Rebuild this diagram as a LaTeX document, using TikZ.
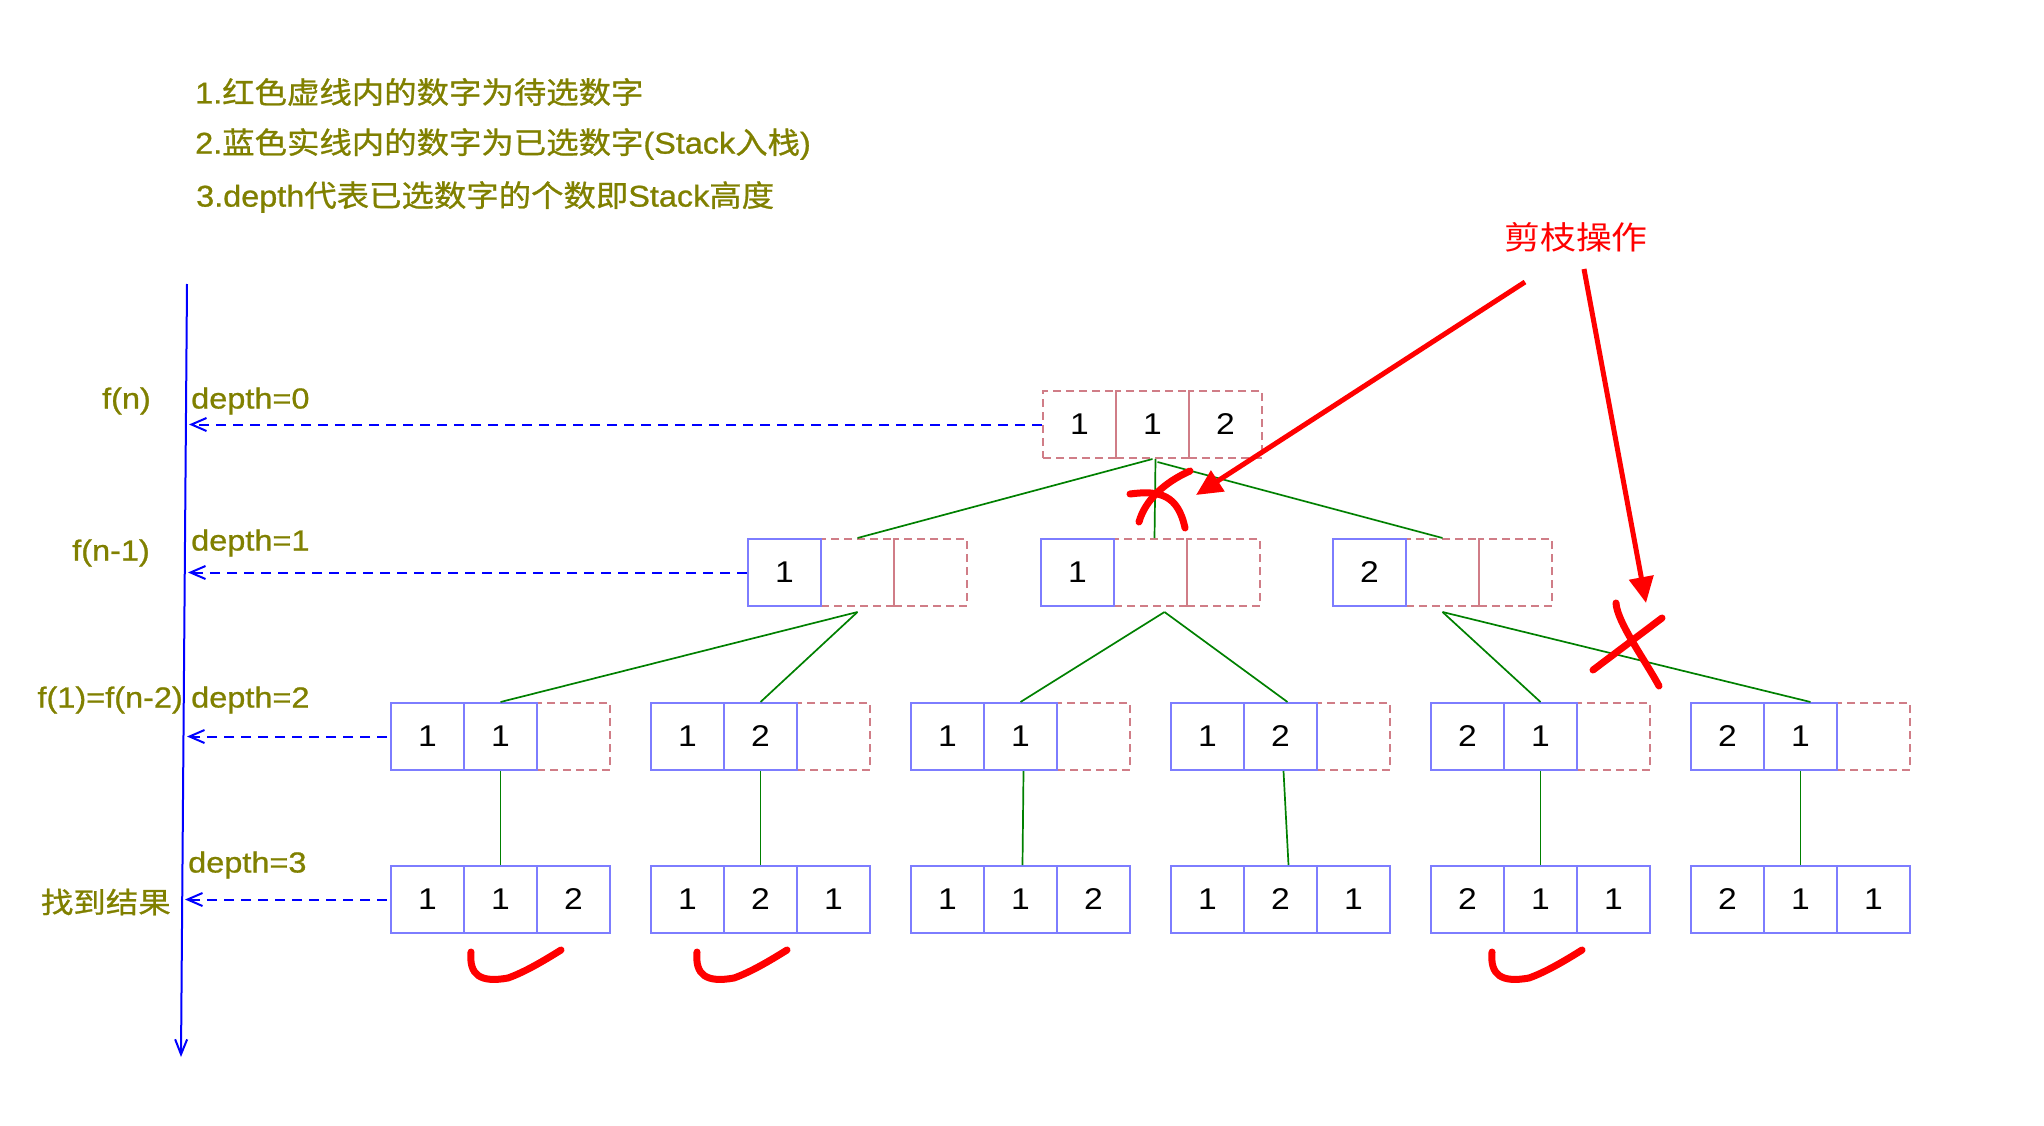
\documentclass[tikz,border=0pt]{standalone}
\usepackage{fontspec}
\usepackage{graphicx}
\setmainfont{Liberation Sans}
\newfontfamily\cjk{Noto Sans CJK SC}[FakeBold=0.8]
\newfontfamily\cjkreg{Noto Sans CJK SC}
\newfontfamily\latb{Liberation Sans}[FakeBold=0.8]
\usetikzlibrary{arrows.meta,calc}
\definecolor{olivetxt}{RGB}{128,128,0}
\definecolor{boxblue}{RGB}{125,125,255}
\definecolor{dashred}{RGB}{208,125,135}
\definecolor{treegreen}{RGB}{0,128,0}
\definecolor{penred}{RGB}{255,0,0}
\definecolor{axisblue}{RGB}{0,0,255}
\newcommand{\sx}[1]{\scalebox{1.12}[1]{#1}}
\newcommand{\tx}[1]{\scalebox{1.08}[1]{#1}}
\newcommand{\trio}[9]{%
  \node[#6] (#13) at (#2+182.5,#3) {\sx{#9}};
  \node[#5] (#12) at (#2+109.5,#3) {\sx{#8}};
  \node[#4] (#11) at (#2+36.5,#3) {\sx{#7}};
}
\begin{document}
\begin{tikzpicture}[x=1pt,y=-1pt,
  solidcell/.style={draw=boxblue,line width=2pt,minimum width=73pt,minimum height=67pt,inner sep=0pt,font=\fontsize{30}{30}\selectfont},
  dashcell/.style={solidcell,draw=dashred,dash pattern=on 8pt off 5pt,line width=2pt},
  title/.style={text=olivetxt,inner sep=0pt,font=\latb\fontsize{30}{36}\selectfont},
  lbl/.style={text=olivetxt,inner sep=0pt,font=\latb\fontsize{29}{34}\selectfont},
  tree/.style={draw=treegreen,line width=1.7pt},
  darrow/.style={draw=axisblue,line width=2pt,dash pattern=on 10pt off 7pt,-{Straight Barb[length=15pt,width=13pt]}},
  axisline/.style={draw=axisblue,line width=2pt,-{Straight Barb[length=15pt,width=12pt]}},
  redarrow/.style={draw=penred,line width=5pt,-{Triangle[length=26pt,width=24pt]}},
  pen/.style={draw=penred,line width=7pt,line cap=round,line join=round}]
\useasboundingbox (0,0) rectangle (2044,1126);

% notes
\node[title,anchor=west] (t1) at (195,92) {\tx{1.{\cjk 红色虚线内的数字为待选数字}}};
\node[title,anchor=west] (t2) at (195,144) {\tx{2.{\cjk 蓝色实线内的数字为已选数字}(Stack{\cjk 入栈})}};
\node[title,anchor=west] (t3) at (196,197) {\tx{3.depth{\cjk 代表已选数字的个数即}Stack{\cjk 高度}}};

% level labels
\node[lbl,anchor=east] (f0) at (151,401) {\sx{f(n)}};
\node[lbl,anchor=east] (f1) at (150,553) {\sx{f(n-1)}};
\node[lbl,anchor=east] (f2) at (183,700) {\sx{f(1)=f(n-2)}};
\node[lbl,anchor=east] (f3) at (171,902) {\sx{\cjk 找到结果}};
\node[lbl,anchor=west] (d0) at (191,401) {\sx{depth=0}};
\node[lbl,anchor=west] (d1) at (191,543) {\sx{depth=1}};
\node[lbl,anchor=west] (d2) at (191,700) {\sx{depth=2}};
\node[lbl,anchor=west] (d3) at (188,865) {\sx{depth=3}};

% axis
\coordinate (axT) at (187,284);
\coordinate (axB) at (181,1057);
\draw[axisline] (axT) -- (axB);

% row 0
\trio{r0}{1043}{424.5}{dashcell}{dashcell}{dashcell}{1}{1}{2}
% row 1
\trio{r1a}{748}{572.5}{solidcell}{dashcell}{dashcell}{1}{}{}
\trio{r1b}{1041}{572.5}{solidcell}{dashcell}{dashcell}{1}{}{}
\trio{r1c}{1333}{572.5}{solidcell}{dashcell}{dashcell}{2}{}{}
% row 2
\trio{r2a}{391}{736.5}{solidcell}{solidcell}{dashcell}{1}{1}{}
\trio{r2b}{651}{736.5}{solidcell}{solidcell}{dashcell}{1}{2}{}
\trio{r2c}{911}{736.5}{solidcell}{solidcell}{dashcell}{1}{1}{}
\trio{r2d}{1171}{736.5}{solidcell}{solidcell}{dashcell}{1}{2}{}
\trio{r2e}{1431}{736.5}{solidcell}{solidcell}{dashcell}{2}{1}{}
\trio{r2f}{1691}{736.5}{solidcell}{solidcell}{dashcell}{2}{1}{}
% row 3
\trio{r3a}{391}{899.5}{solidcell}{solidcell}{solidcell}{1}{1}{2}
\trio{r3b}{651}{899.5}{solidcell}{solidcell}{solidcell}{1}{2}{1}
\trio{r3c}{911}{899.5}{solidcell}{solidcell}{solidcell}{1}{1}{2}
\trio{r3d}{1171}{899.5}{solidcell}{solidcell}{solidcell}{1}{2}{1}
\trio{r3e}{1431}{899.5}{solidcell}{solidcell}{solidcell}{2}{1}{1}
\trio{r3f}{1691}{899.5}{solidcell}{solidcell}{solidcell}{2}{1}{1}

% dashed level arrows
\coordinate (h0) at (189,424.5);
\coordinate (h1) at (188,572.5);
\coordinate (h2) at (187,736.5);
\coordinate (h3) at (185,899.5);
\draw[darrow] (r01.west) -- (h0);
\draw[darrow] (r1a1.west) -- (h1);
\draw[darrow] ([xshift=-3pt]r2a1.west) -- (h2);
\draw[darrow] ([xshift=-3pt]r3a1.west) -- (h3);

% tree edges
\draw[tree] (r02.south) -- (r1a2.north);
\draw[tree] ([xshift=3pt]r02.south) -- ([xshift=4pt]r1b2.north);
\draw[tree] ([xshift=5pt,yshift=-3pt]r02.south) -- (r1c2.north);
\draw[tree] ([yshift=-5pt]r1a2.south) -- (r2a2.north);
\draw[tree] ([yshift=-5pt]r1a2.south) -- (r2b2.north);
\draw[tree] ([yshift=-5pt,xshift=14pt]r1b2.south) -- (r2c2.north);
\draw[tree] ([yshift=-5pt,xshift=14pt]r1b2.south) -- ([xshift=7pt]r2d2.north);
\draw[tree] ([yshift=-5pt]r1c2.south) -- (r2e2.north);
\draw[tree] ([yshift=-5pt]r1c2.south) -- ([xshift=10pt]r2f2.north);
\draw[tree] (r2a2.south) -- (r3a2.north);
\draw[tree] (r2b2.south) -- (r3b2.north);
\draw[tree] ([xshift=3pt]r2c2.south) -- ([xshift=2pt]r3c2.north);
\draw[tree] ([xshift=3pt]r2d2.south) -- ([xshift=8pt]r3d2.north);
\draw[tree] (r2e2.south) -- (r3e2.north);
\draw[tree] (r2f2.south) -- (r3f2.north);

% pruning annotation
\node[text=penred,inner sep=0pt,font=\fontsize{32}{36}\selectfont] (prune) at (1576,237) {\sx{\cjkreg 剪枝操作}};
\coordinate (p1s) at (1525,282);
\coordinate (p1e) at (1196,495);
\coordinate (p2s) at (1584,269);
\coordinate (p2e) at (1646,603);
\draw[redarrow] (p1s) -- (p1e);
\draw[redarrow] (p2s) -- (p2e);

% cross marks
\draw[pen] (1130,494) .. controls (1160,490) and (1178,495) .. (1185,528);
\draw[pen] (1190,471) .. controls (1165,482) and (1145,500) .. (1139,522);
\draw[pen] (1616,603) .. controls (1617,622) and (1645,660) .. (1659,686);
\draw[pen] (1662,618) -- (1593,670);

% check marks
\draw[pen] (471,952) .. controls (469,975) and (480,983) .. (508,978) .. controls (525,972) and (545,960) .. (561,950);
\draw[pen,shift={(226,0)}] (471,952) .. controls (469,975) and (480,983) .. (508,978) .. controls (525,972) and (545,960) .. (561,950);
\draw[pen,shift={(1021,0)}] (471,952) .. controls (469,975) and (480,983) .. (508,978) .. controls (525,972) and (545,960) .. (561,950);
\end{tikzpicture}
\end{document}
